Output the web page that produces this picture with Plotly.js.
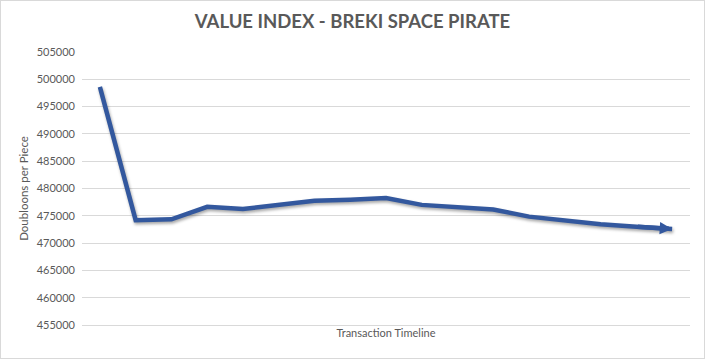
<!DOCTYPE html>
<html>
<head>
<meta charset="utf-8">
<script src="https://cdn.plot.ly/plotly-3.0.1.min.js"></script>
<style>
  html, body { margin: 0; padding: 0; background: #ffffff; }
  #wrap { position: relative; width: 705px; height: 359px; }
  #chart { position: absolute; left: 0; top: 0; width: 705px; height: 359px; }
  #frame { position: absolute; left: 0; top: 0; width: 703px; height: 357px; border: 1px solid #d9d9d9; pointer-events: none; }
  .scatterlayer path.js-line { filter: drop-shadow(1px 2px 1.5px rgba(0,0,0,0.35)); }
</style>
</head>
<body>
<div id="wrap">
  <div id="chart"></div>
  <div id="frame"></div>
</div>
<script>
// Transaction sequence (no tick labels shown on the reference)
var transactions = [1, 2, 3, 4, 5, 6, 7, 8, 9, 10, 11, 12, 13, 14, 15, 16, 17];
// Doubloons per piece
var doubloons = [498600, 474200, 474350, 476650, 476250, 476900, 477750, 477950, 478250,
                 477000, 476500, 476150, 474850, 474100, 473450, 473000, 472600];

var chartTitle = 'VALUE INDEX - BREKI SPACE PIRATE';
var xTitle = 'Transaction Timeline';
var yTitle = 'Doubloons per Piece';
var yMin = 455000, yMax = 505000, yStep = 5000;

var n = transactions.length;
var lineColor = '#33589e';

var trace = {
  x: transactions,
  y: doubloons,
  type: 'scatter',
  mode: 'lines',
  line: { color: lineColor, width: 4.5 },
  hoverinfo: 'skip'
};

var layout = {
  width: 705,
  height: 359,
  margin: { l: 82, r: 15, t: 52, b: 34 },
  paper_bgcolor: '#ffffff',
  plot_bgcolor: '#ffffff',
  showlegend: false,
  font: { family: 'Lato, "Open Sans", sans-serif', color: '#595959' },
  title: {
    text: '<b>' + chartTitle + '</b>',
    font: { family: 'Lato, "Open Sans", sans-serif', size: 18.5, color: '#595959' },
    x: 0.5, xanchor: 'center', y: 0.94, yanchor: 'middle'
  },
  xaxis: {
    range: [transactions[0] - 0.5, transactions[n - 1] + 0.5],
    showticklabels: false,
    ticks: '',
    showgrid: false,
    zeroline: false,
    showline: true,
    linecolor: '#d9d9d9',
    linewidth: 1,
    title: { text: xTitle, font: { size: 11, color: '#595959' }, standoff: 4 }
  },
  yaxis: {
    range: [yMin, yMax + 1],
    dtick: yStep,
    tick0: yMin,
    tickformat: 'd',
    ticks: '',
    ticklabelstandoff: 6,
    showgrid: true,
    gridcolor: '#d9d9d9',
    gridwidth: 1,
    zeroline: false,
    showline: false,
    tickfont: { size: 11, color: '#595959' },
    title: { text: yTitle, font: { size: 11.5, color: '#595959' }, standoff: 5 }
  },
  annotations: [{
    x: transactions[n - 1], y: doubloons[n - 1],
    ax: transactions[n - 2], ay: doubloons[n - 2],
    xref: 'x', yref: 'y', axref: 'x', ayref: 'y',
    showarrow: true, arrowhead: 2, arrowsize: 0.55, arrowwidth: 4.5,
    arrowcolor: lineColor, standoff: 0, text: ''
  }]
};

Plotly.newPlot('chart', [trace], layout, { displayModeBar: false, staticPlot: true });
</script>
</body>
</html>
